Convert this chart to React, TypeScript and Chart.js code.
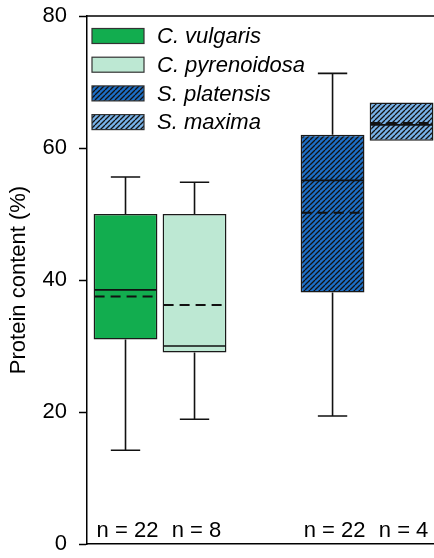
import React, { useEffect, useRef } from 'react';
import { Chart, registerables } from 'chart.js';

Chart.register(...registerables);

// Species (the blank slot is the visual gap between the two genera)
const categories = ['C. vulgaris', 'C. pyrenoidosa', '', 'S. platensis', 'S. maxima'];
const species = ['C. vulgaris', 'C. pyrenoidosa', 'S. platensis', 'S. maxima'];
const whiskerLow = [14.2, 18.9, 19.4, 61.1];
const q1 = [31.0, 29.0, 38.1, 61.1];
const median = [38.5, 30.0, 55.1, 63.5];
const mean = [37.5, 36.2, 50.2, 63.8];
const q3 = [50.0, 50.0, 62.0, 66.9];
const whiskerHigh = [55.6, 54.8, 71.3, 66.9];
const sampleSizes = [22, 8, 22, 4];
const yTicks = [0, 20, 40, 60, 80];

const baseColors = ['#12ad4f', '#bde8d3', '#1d6fc7', '#78b2e8'];
const hatched = [false, false, true, true];
const FONT = '"Liberation Sans", Arial, sans-serif';

function makeHatch(base: string): CanvasPattern | string {
  const s = 5;
  const c = document.createElement('canvas');
  c.width = s;
  c.height = s;
  const g = c.getContext('2d');
  if (!g) return base;
  g.fillStyle = base;
  g.fillRect(0, 0, s, s);
  g.strokeStyle = '#111';
  g.lineWidth = 1.3;
  g.beginPath();
  for (const o of [-s, 0, s]) {
    g.moveTo(o, s);
    g.lineTo(o + s, 0);
  }
  g.stroke();
  const p = g.createPattern(c, 'repeat');
  return p || base;
}

export default function App() {
  const ref = useRef<HTMLCanvasElement | null>(null);

  useEffect(() => {
    if (!ref.current) return;
    const fills = baseColors.map((c, i) => (hatched[i] ? makeHatch(c) : c));
    const xIndex = species.map((s) => categories.indexOf(s));

    const boxPlugin = {
      id: 'boxExtras',
      afterDatasetsDraw(chart: any) {
        const { ctx, chartArea } = chart;
        const y = chart.scales.y;
        const meta = chart.getDatasetMeta(0);
        ctx.save();
        meta.data.forEach((bar: any, i: number) => {
          const cx = bar.x;
          const w = bar.width;
          const l = cx - w / 2;
          const r = cx + w / 2;
          const cap = w * 0.23;
          // whiskers
          ctx.setLineDash([]);
          ctx.lineWidth = 1.6;
          ctx.strokeStyle = '#111';
          if (whiskerHigh[i] > q3[i]) {
            ctx.beginPath();
            ctx.moveTo(cx, y.getPixelForValue(q3[i]));
            ctx.lineTo(cx, y.getPixelForValue(whiskerHigh[i]));
            ctx.moveTo(cx - cap, y.getPixelForValue(whiskerHigh[i]));
            ctx.lineTo(cx + cap, y.getPixelForValue(whiskerHigh[i]));
            ctx.stroke();
          }
          if (whiskerLow[i] < q1[i]) {
            ctx.beginPath();
            ctx.moveTo(cx, y.getPixelForValue(q1[i]));
            ctx.lineTo(cx, y.getPixelForValue(whiskerLow[i]));
            ctx.moveTo(cx - cap, y.getPixelForValue(whiskerLow[i]));
            ctx.lineTo(cx + cap, y.getPixelForValue(whiskerLow[i]));
            ctx.stroke();
          }
          // median
          ctx.lineWidth = 1.6;
          ctx.beginPath();
          ctx.moveTo(l + 1, y.getPixelForValue(median[i]));
          ctx.lineTo(r - 1, y.getPixelForValue(median[i]));
          ctx.stroke();
          // mean
          ctx.lineWidth = 2;
          ctx.setLineDash([10, 6]);
          ctx.beginPath();
          ctx.moveTo(l + 1, y.getPixelForValue(mean[i]));
          ctx.lineTo(r - 1, y.getPixelForValue(mean[i]));
          ctx.stroke();
          ctx.setLineDash([]);
          // n labels
          ctx.fillStyle = '#000';
          ctx.font = `22px ${FONT}`;
          ctx.textAlign = 'center';
          ctx.textBaseline = 'alphabetic';
          ctx.fillText(`n = ${sampleSizes[i]}`, cx + 2, y.getPixelForValue(0) - 7);
        });
        // top frame line
        ctx.lineWidth = 1.5;
        ctx.strokeStyle = '#000';
        ctx.beginPath();
        ctx.moveTo(chartArea.left, chartArea.top);
        ctx.lineTo(chartArea.right, chartArea.top);
        ctx.stroke();
        // legend
        const lx = chartArea.left + 5;
        species.forEach((s, i) => {
          const cy = chartArea.top + 20 + i * 28.7;
          ctx.fillStyle = fills[i] as any;
          ctx.fillRect(lx, cy - 7.5, 52, 15);
          ctx.lineWidth = 1.2;
          ctx.strokeStyle = '#333';
          ctx.strokeRect(lx, cy - 7.5, 52, 15);
          ctx.fillStyle = '#000';
          ctx.font = `italic 22px ${FONT}`;
          ctx.textAlign = 'left';
          ctx.textBaseline = 'middle';
          ctx.fillText(s, lx + 65, cy + 1);
        });
        ctx.restore();
      },
    };

    const chart = new Chart(ref.current, {
      type: 'bar',
      data: {
        datasets: [
          {
            data: species.map((s, i) => ({ x: xIndex[i], y: [q1[i], q3[i]] })) as any,
            backgroundColor: fills as any,
            borderColor: '#1a1a1a',
            borderWidth: 1.5,
            borderSkipped: false,
            barPercentage: 0.925,
            categoryPercentage: 1,
          },
        ],
      },
      options: {
        animation: false,
        responsive: false,
        devicePixelRatio: 1,
        events: [],
        layout: { padding: { top: 16, right: 0, bottom: 0, left: 0 } },
        plugins: { legend: { display: false }, tooltip: { enabled: false } },
        scales: {
          x: {
            type: 'linear',
            offset: false,
            min: -0.558,
            max: 4.47,
            ticks: { display: false },
            grid: { display: false, drawTicks: false },
            border: { display: true, color: '#000', width: 1.5 },
            afterFit: (scale: any) => {
              scale.height = 14;
              scale.paddingLeft = 0;
              scale.paddingRight = 0;
            },
          },
          y: {
            min: 0,
            max: 80,
            afterBuildTicks: (scale: any) => {
              scale.ticks = yTicks.map((v) => ({ value: v }));
            },
            ticks: {
              color: '#000',
              padding: 12,
              font: { family: FONT, size: 22 },
            },
            grid: {
              display: true,
              drawOnChartArea: false,
              drawTicks: true,
              tickLength: 8,
              tickColor: '#000',
              tickWidth: 1.5,
            },
            border: { display: true, color: '#000', width: 1.5 },
            title: {
              display: true,
              text: 'Protein content (%)',
              color: '#000',
              font: { family: FONT, size: 22 },
              padding: { top: 6, bottom: 0 },
            },
            afterFit: (scale: any) => {
              scale.width = 87;
              scale.paddingTop = 0;
              scale.paddingBottom = 0;
            },
          },
        },
      },
      plugins: [boxPlugin],
    });
    return () => chart.destroy();
  }, []);

  return (
    <div style={{ position: 'absolute', left: 0, top: 0, width: 434, height: 558, overflow: 'hidden', background: '#fff' }}>
      <canvas ref={ref} width={434} height={558} style={{ width: 434, height: 558, display: 'block' }} />
    </div>
  );
}
